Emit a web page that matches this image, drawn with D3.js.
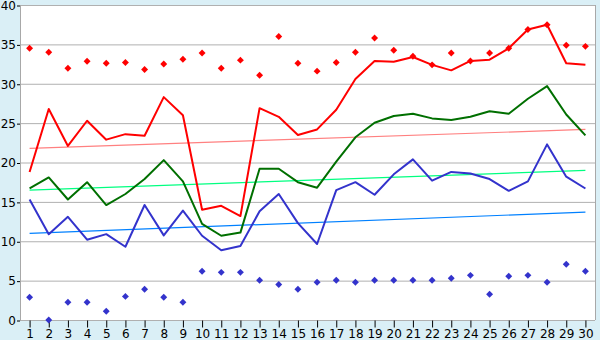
<!DOCTYPE html>
<html>
<head>
<meta charset="utf-8">
<script src="https://cdn.jsdelivr.net/npm/d3@7"></script>
<style>
  body { margin: 0; background: #daeff6; }
  svg { display: block; }
  .tick text { font-family: "DejaVu Sans", Verdana, sans-serif; font-size: 12px; fill: #000; }
</style>
</head>
<body>
<div id="chart"></div>
<script>
var days = d3.range(1, 31);

var redLine = [18.8, 26.8, 22.1, 25.3, 22.9, 23.6, 23.4, 28.3, 26.0, 14.0,
               14.5, 13.2, 26.9, 25.8, 23.5, 24.2, 26.7, 30.6, 32.9, 32.8,
               33.4, 32.4, 31.7, 32.9, 33.05, 34.5, 36.9, 37.5, 32.6, 32.4];
var greenLine = [16.7, 18.1, 15.3, 17.5, 14.6, 16.0, 17.9, 20.3, 17.6, 12.2,
                 10.7, 11.1, 19.2, 19.2, 17.5, 16.8, 20.1, 23.2, 25.05, 25.9,
                 26.2, 25.6, 25.4, 25.8, 26.5, 26.2, 28.1, 29.7, 26.1, 23.45];
var blueLine = [15.3, 10.9, 13.1, 10.2, 10.9, 9.3, 14.6, 10.75, 13.9, 10.7,
                8.85, 9.4, 13.8, 16.0, 12.3, 9.65, 16.5, 17.5, 15.9, 18.5,
                20.4, 17.7, 18.8, 18.6, 17.9, 16.4, 17.6, 22.3, 18.2, 16.7];
var redMarks = [34.5, 34.0, 31.96, 32.85, 32.6, 32.7, 31.8, 32.5, 33.1, 33.9,
                31.96, 33.0, 31.07, 36.0, 32.6, 31.6, 32.7, 34.0, 35.8, 34.25,
                33.5, 32.4, 33.9, 32.9, 33.9, 34.5, 36.9, 37.5, 34.9, 34.75];
var blueMarks = [2.88, 0, 2.25, 2.25, 1.1, 3.0, 3.9, 2.88, 2.25, 6.18,
                 6.05, 6.05, 5.04, 4.5, 3.9, 4.8, 5.04, 4.8, 5.04, 5.04,
                 5.04, 5.04, 5.3, 5.67, 3.26, 5.55, 5.67, 4.8, 7.07, 6.18];
// trend lines, value at day 1 and day 30
var redTrend = [21.8, 24.2];
var greenTrend = [16.5, 19.0];
var blueTrend = [11.0, 13.7];
var yTicks = [0, 5, 10, 15, 20, 25, 30, 35, 40];

var width = 600, height = 340;
var plotLeft = 20, plotRight = 595, plotTop = 5, plotBottom = 320;

var svg = d3.select("#chart").append("svg")
    .attr("width", width)
    .attr("height", height);

svg.append("rect")
    .attr("x", plotLeft).attr("y", plotTop)
    .attr("width", plotRight - plotLeft).attr("height", plotBottom - plotTop)
    .attr("fill", "#fff");

var x = d3.scalePoint().domain(days).range([plotLeft, plotRight]).padding(0.5);
var y = d3.scaleLinear().domain([0, 40]).range([plotBottom, plotTop]);

// grid
svg.append("g")
    .selectAll("line")
    .data(yTicks)
    .enter().append("line")
    .attr("x1", plotLeft).attr("x2", plotRight)
    .attr("y1", function(d) { return y(d) + 0.5; })
    .attr("y2", function(d) { return y(d) + 0.5; })
    .attr("stroke", "#b0b0b0");

// frame
svg.append("line").attr("x1", plotRight + 0.5).attr("x2", plotRight + 0.5)
    .attr("y1", plotTop).attr("y2", plotBottom).attr("stroke", "#a8a8a8");
svg.append("line").attr("x1", plotLeft + 0.5).attr("x2", plotLeft + 0.5)
    .attr("y1", plotTop).attr("y2", plotBottom + 1).attr("stroke", "#a8a8a8");

var yAxis = svg.append("g")
    .attr("transform", "translate(" + plotLeft + ",0.5)")
    .call(d3.axisLeft(y).tickValues(yTicks).tickSize(3).tickPadding(1));
yAxis.select(".domain").remove();
yAxis.selectAll(".tick line").attr("stroke", "#000");

var xAxis = svg.append("g")
    .attr("transform", "translate(0," + (plotBottom + 0.5) + ")")
    .call(d3.axisBottom(x).tickSize(7).tickPadding(2));
xAxis.select(".domain").remove();
xAxis.selectAll(".tick line").attr("stroke", "#000");

// trend lines
function trend(vals, color) {
    svg.append("line")
        .attr("x1", x(1)).attr("x2", x(30))
        .attr("y1", y(vals[0])).attr("y2", y(vals[1]))
        .attr("stroke", color)
        .attr("stroke-width", 1.2);
}
trend(redTrend, "#ff8080");
trend(greenTrend, "#00ff80");
trend(blueTrend, "#0080ff");

var line = d3.line()
    .x(function(d, i) { return x(days[i]); })
    .y(function(d) { return y(d); });

function series(vals, color) {
    svg.append("path")
        .datum(vals)
        .attr("d", line)
        .attr("fill", "none")
        .attr("stroke", color)
        .attr("stroke-width", 2)
        .attr("stroke-linejoin", "round");
}
series(redLine, "#ff0000");
series(greenLine, "#006f00");
series(blueLine, "#3333cc");

// small filled diamond, like a fat plus
var diamond = {
    draw: function(ctx, size) {
        var r = Math.sqrt(size / 2);
        ctx.moveTo(0, -r);
        ctx.lineTo(r, 0);
        ctx.lineTo(0, r);
        ctx.lineTo(-r, 0);
        ctx.closePath();
    }
};
var marker = d3.symbol().type(diamond).size(24);
function marks(vals, color) {
    svg.append("g")
        .selectAll("path")
        .data(vals)
        .enter().append("path")
        .attr("d", marker)
        .attr("transform", function(d, i) {
            return "translate(" + x(days[i]) + "," + y(d) + ")";
        })
        .attr("fill", color);
}
marks(redMarks, "#ff0000");
marks(blueMarks, "#3333cc");
</script>
</body>
</html>
